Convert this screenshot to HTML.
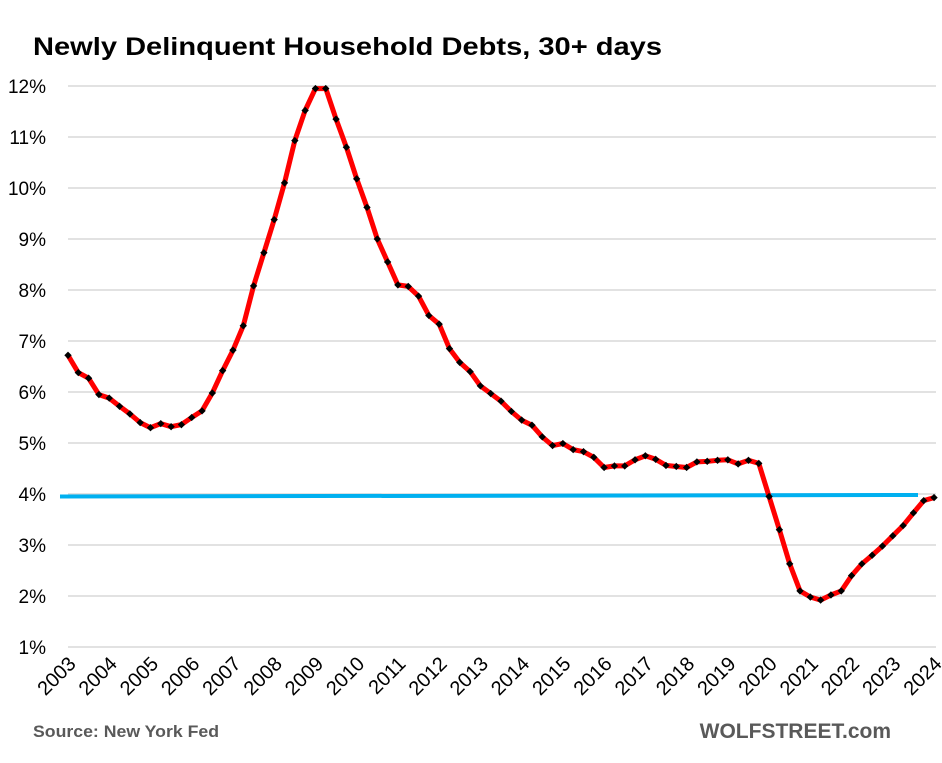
<!DOCTYPE html>
<html><head><meta charset="utf-8"><style>body{margin:0;background:#fff}</style></head><body>
<svg id="c" width="942" height="758" xmlns="http://www.w3.org/2000/svg" font-family="Liberation Sans, sans-serif">
<rect width="942" height="758" fill="#fff"/>
<text x="33" y="55" font-size="25" font-weight="bold" fill="#000" textLength="629" lengthAdjust="spacingAndGlyphs">Newly Delinquent Household Debts, 30+ days</text>
<g id="grid"></g>
<line x1="60" y1="496.5" x2="918" y2="495" stroke="#00B0F0" stroke-width="4"/>
<polyline id="ln" fill="none" stroke="#FF0000" stroke-width="5" stroke-linejoin="round"/>
<g id="pts"></g>
<g id="xl"></g>
<text x="33" y="737" font-size="17" font-weight="bold" fill="#595959" textLength="186" lengthAdjust="spacingAndGlyphs">Source: New York Fed</text>
<text x="891" y="738" font-size="21" font-weight="bold" fill="#595959" text-anchor="end">WOLFSTREET.com</text>
<script>
var d=[6.72,6.38,6.27,5.95,5.88,5.72,5.57,5.40,5.30,5.38,5.32,5.36,5.50,5.63,5.98,6.42,6.82,7.30,8.08,8.73,9.38,10.10,10.93,11.52,11.95,11.95,11.35,10.80,10.18,9.62,9.00,8.55,8.10,8.07,7.88,7.50,7.33,6.85,6.58,6.40,6.12,5.97,5.82,5.62,5.45,5.35,5.12,4.95,4.99,4.87,4.83,4.72,4.52,4.55,4.55,4.67,4.75,4.68,4.56,4.54,4.52,4.63,4.64,4.66,4.67,4.59,4.66,4.60,3.95,3.30,2.63,2.10,1.98,1.92,2.02,2.10,2.40,2.63,2.80,2.98,3.18,3.38,3.63,3.87,3.93];
var ns="http://www.w3.org/2000/svg";
function Y(v){return 86+(12-v)*51;}
function X(i){return 68+i*10.31;}
var g=document.getElementById('grid');
for(var v=1;v<=12;v++){var l=document.createElementNS(ns,'line');l.setAttribute('x1',68);l.setAttribute('x2',936);l.setAttribute('y1',Y(v));l.setAttribute('y2',Y(v));l.setAttribute('stroke','#d9d9d9');l.setAttribute('stroke-width','1.5');g.appendChild(l);
var t=document.createElementNS(ns,'text');t.setAttribute('x',46);t.setAttribute('y',Y(v)+7);t.setAttribute('font-size','19');t.setAttribute('text-anchor','end');t.textContent=v+'%';g.appendChild(t);}
var p=[],pg=document.getElementById('pts');
d.forEach(function(v,i){var x=X(i),y=Y(v);p.push(x.toFixed(1)+','+y.toFixed(1));
var r=document.createElementNS(ns,'rect');r.setAttribute('x',x-2.6);r.setAttribute('y',y-2.6);r.setAttribute('width',5.2);r.setAttribute('height',5.2);r.setAttribute('transform','rotate(45 '+x+' '+y+')');r.setAttribute('fill','#000');pg.appendChild(r);});
document.getElementById('ln').setAttribute('points',p.join(' '));
var xl=document.getElementById('xl');
for(var k=0;k<=21;k++){var x=68+k*41.24+9,y=665;var t=document.createElementNS(ns,'text');t.setAttribute('x',x);t.setAttribute('y',y);t.setAttribute('font-size','20');t.setAttribute('text-anchor','end');t.setAttribute('transform','rotate(-45 '+x+' '+y+')');t.textContent=2003+k;xl.appendChild(t);}
</script>
</svg>
</body></html>
